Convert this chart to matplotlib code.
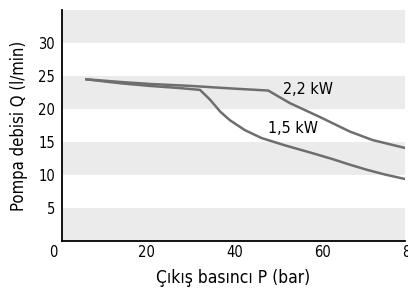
import matplotlib
matplotlib.use("Agg")
import matplotlib.pyplot as plt

plt.rcParams['font.family'] = ['DejaVu Sans']
plt.rcParams['font.stretch'] = 'condensed'

# 1,5 kW curve
p_15 = [6.3, 14, 20.7, 27, 32.1, 34.4, 36.7, 38.9, 42.3, 46.1, 51.4, 57.2, 62.3, 66, 70, 74, 78.7]
q_15 = [24.5, 23.9, 23.5, 23.2, 22.9, 21.4, 19.6, 18.3, 16.8, 15.6, 14.5, 13.4, 12.4, 11.6, 10.8, 10.1, 9.4]

# 2,2 kW curve
p_22 = [6.3, 14, 20.7, 30, 39.6, 47.6, 52.5, 59.3, 66.1, 71.3, 75, 78.7]
q_22 = [24.5, 24.1, 23.8, 23.5, 23.1, 22.8, 20.9, 18.8, 16.6, 15.3, 14.7, 14.1]

y_ticks = [5, 10, 15, 20, 25, 30]
x_ticks = [20, 40, 60]
bands = [(0, 5), (10, 15), (20, 25), (30, 35)]

fig = plt.figure(figsize=(4.08, 2.94), dpi=100)
ax = fig.add_axes([0.152, 0.180, 0.841, 0.786])

for lo, hi in bands:
    ax.axhspan(lo, hi, color="#ebebeb", lw=0, zorder=0)

ax.plot(p_15, q_15, color="#6e6e6e", lw=1.8, zorder=2, solid_joinstyle="round")
ax.plot(p_22, q_22, color="#6e6e6e", lw=1.8, zorder=2, solid_joinstyle="round")

ax.text(56.7, 22.9, "2,2 kW", fontsize=11.5, ha="center", va="center")
ax.text(53.2, 17.1, "1,5 kW", fontsize=11.5, ha="center", va="center")

ax.set_xlim(0.75, 78.7)
ax.set_ylim(0, 35)
ax.set_xticks(x_ticks)
ax.set_yticks(y_ticks)
ax.tick_params(length=0, labelsize=10.5, pad=3)
ax.tick_params(axis="y", pad=5)
ax.text(80, -0.55, "80", fontsize=10.5, ha="center", va="top", clip_on=False)
ax.text(-1.3, -0.55, "0", fontsize=10.5, ha="center", va="top", clip_on=False)

for s in ["top", "right"]:
    ax.spines[s].set_visible(False)
for s in ["left", "bottom"]:
    ax.spines[s].set_linewidth(1.3)

ax.set_xlabel("Çıkış basıncı P (bar)", fontsize=12.5, labelpad=6)
ax.set_ylabel("Pompa debisi Q (l/min)", fontsize=12, labelpad=7)

fig.savefig("out.png", dpi=100)
